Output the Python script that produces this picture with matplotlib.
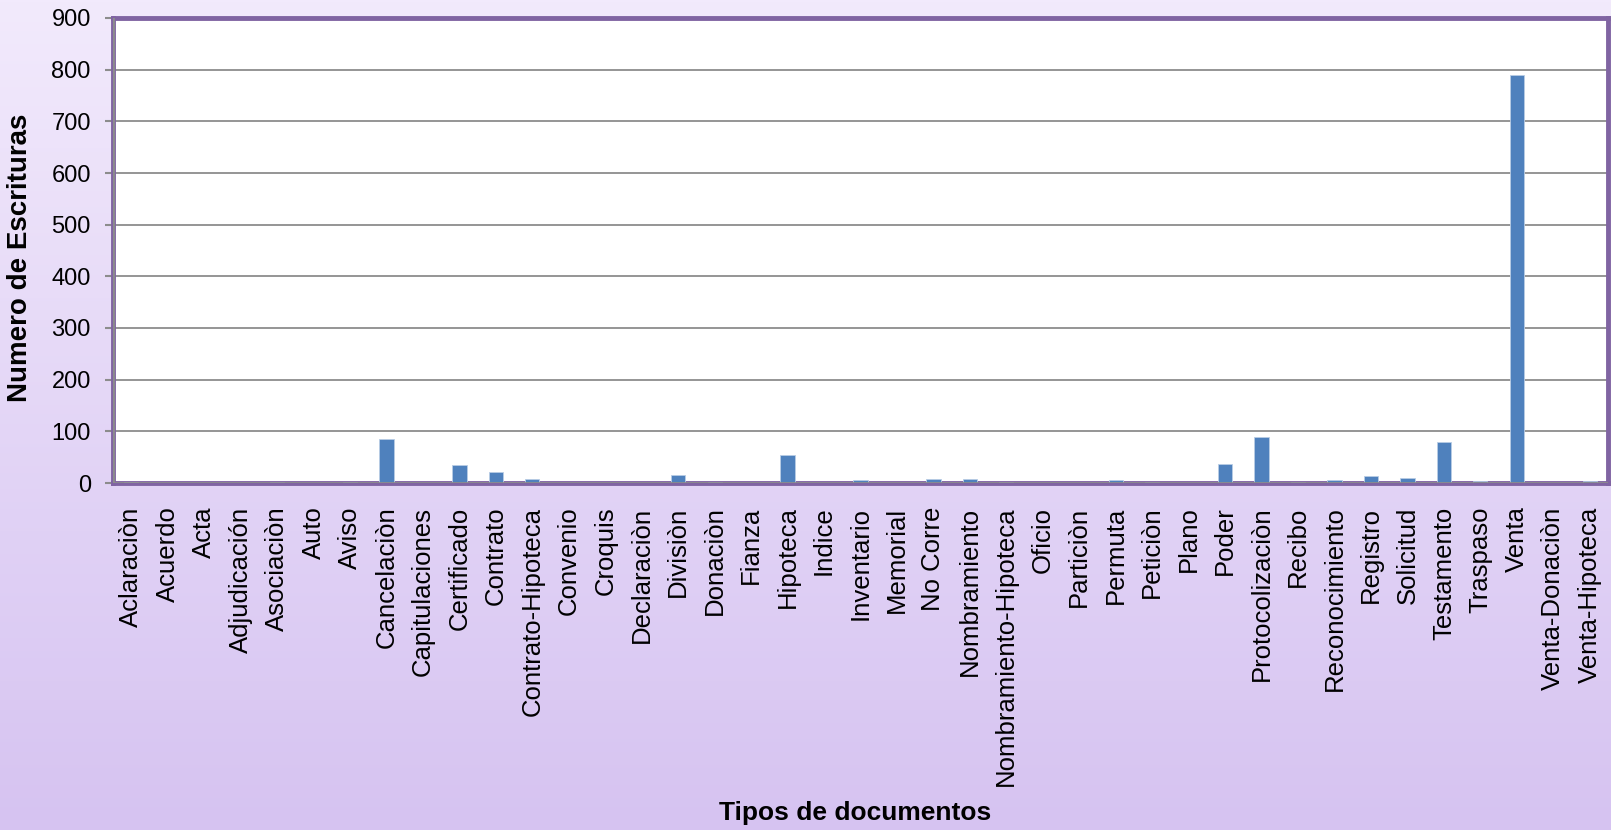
import numpy as np
import matplotlib
matplotlib.use("Agg")
import matplotlib.pyplot as plt
from matplotlib.colors import LinearSegmentedColormap

plt.rcParams["font.family"] = ["Liberation Sans", "DejaVu Sans"]

# datos
tipos = ["Aclaraciòn", "Acuerdo", "Acta", "Adjudicación", "Asociaciòn", "Auto", "Aviso",
         "Cancelaciòn", "Capitulaciones", "Certificado", "Contrato", "Contrato-Hipoteca",
         "Convenio", "Croquis", "Declaraciòn", "Divisiòn", "Donaciòn", "Fianza", "Hipoteca",
         "Indice", "Inventario", "Memorial", "No Corre", "Nombramiento",
         "Nombramiento-Hipoteca", "Oficio", "Particiòn", "Permuta", "Peticiòn", "Plano",
         "Poder", "Protocolizaciòn", "Recibo", "Reconocimiento", "Registro", "Solicitud",
         "Testamento", "Traspaso", "Venta", "Venta-Donaciòn", "Venta-Hipoteca"]
escrituras = [1, 0, 0, 0, 2, 0, 1,
              85, 0, 34, 21, 8,
              0, 0, 0, 16, 1, 0, 55,
              0, 6, 0, 8, 8,
              1, 0, 0, 6, 2, 0,
              37, 89, 1, 5, 13, 10,
              79, 3, 790, 0, 4]
y_ticks = [0, 100, 200, 300, 400, 500, 600, 700, 800, 900]

W, H = 1611, 830
fig = plt.figure(figsize=(W / 100, H / 100), dpi=100)

# fondo degradado lila
bg = fig.add_axes([0, 0, 1, 1], zorder=-1)
cmap = LinearSegmentedColormap.from_list("lila", ["#F2EAFC", "#D6C3F1"])
grad = np.linspace(0, 1, 256).reshape(-1, 1)
bg.imshow(grad, aspect="auto", cmap=cmap, extent=[0, 1, 0, 1], origin="upper")
bg.axis("off")

ax = fig.add_axes([113 / W, 1 - 483 / H, (1608 - 113) / W, (483 - 18) / H])
ax.set_facecolor("white")

x = np.arange(len(tipos))
ax.bar(x, escrituras, width=0.39, color="#4F81BD", edgecolor="#B9CDE5", linewidth=0.6, zorder=3)

ax.set_xlim(-0.5, len(tipos) - 0.5)
ax.set_ylim(0, 900)
ax.set_yticks(y_ticks)
ax.set_yticklabels([str(v) for v in y_ticks], fontsize=17)
ax.yaxis.grid(True, color="#8C8C8C", linewidth=1.3, zorder=1)
ax.set_axisbelow(True)

ax.set_xticks(x)
ax.set_xticklabels(tipos, rotation=90, fontsize=18.5, ha="center", va="top")
ax.tick_params(axis="x", length=0, pad=17)
ax.tick_params(axis="y", length=6, width=1.5, color="#8C8C8C", direction="out", pad=10)

for s in ax.spines.values():
    s.set_color("#8064A2")
    s.set_linewidth(3.5)
ax.axhline(0, color="#8C8C8C", linewidth=2, zorder=4)
ax.axvline(-0.5, color="#8C8C8C", linewidth=2, zorder=4)

ax.set_ylabel("Numero de Escrituras", fontsize=20, fontweight="bold")
ax.yaxis.set_label_coords((33 - 113) / 1495, (483 - 258) / 465)
fig.text(855 / W, 1 - 813 / H, "Tipos de documentos", fontsize=19, fontweight="bold",
         ha="center", va="center")

fig.savefig("out.png", dpi=100)
